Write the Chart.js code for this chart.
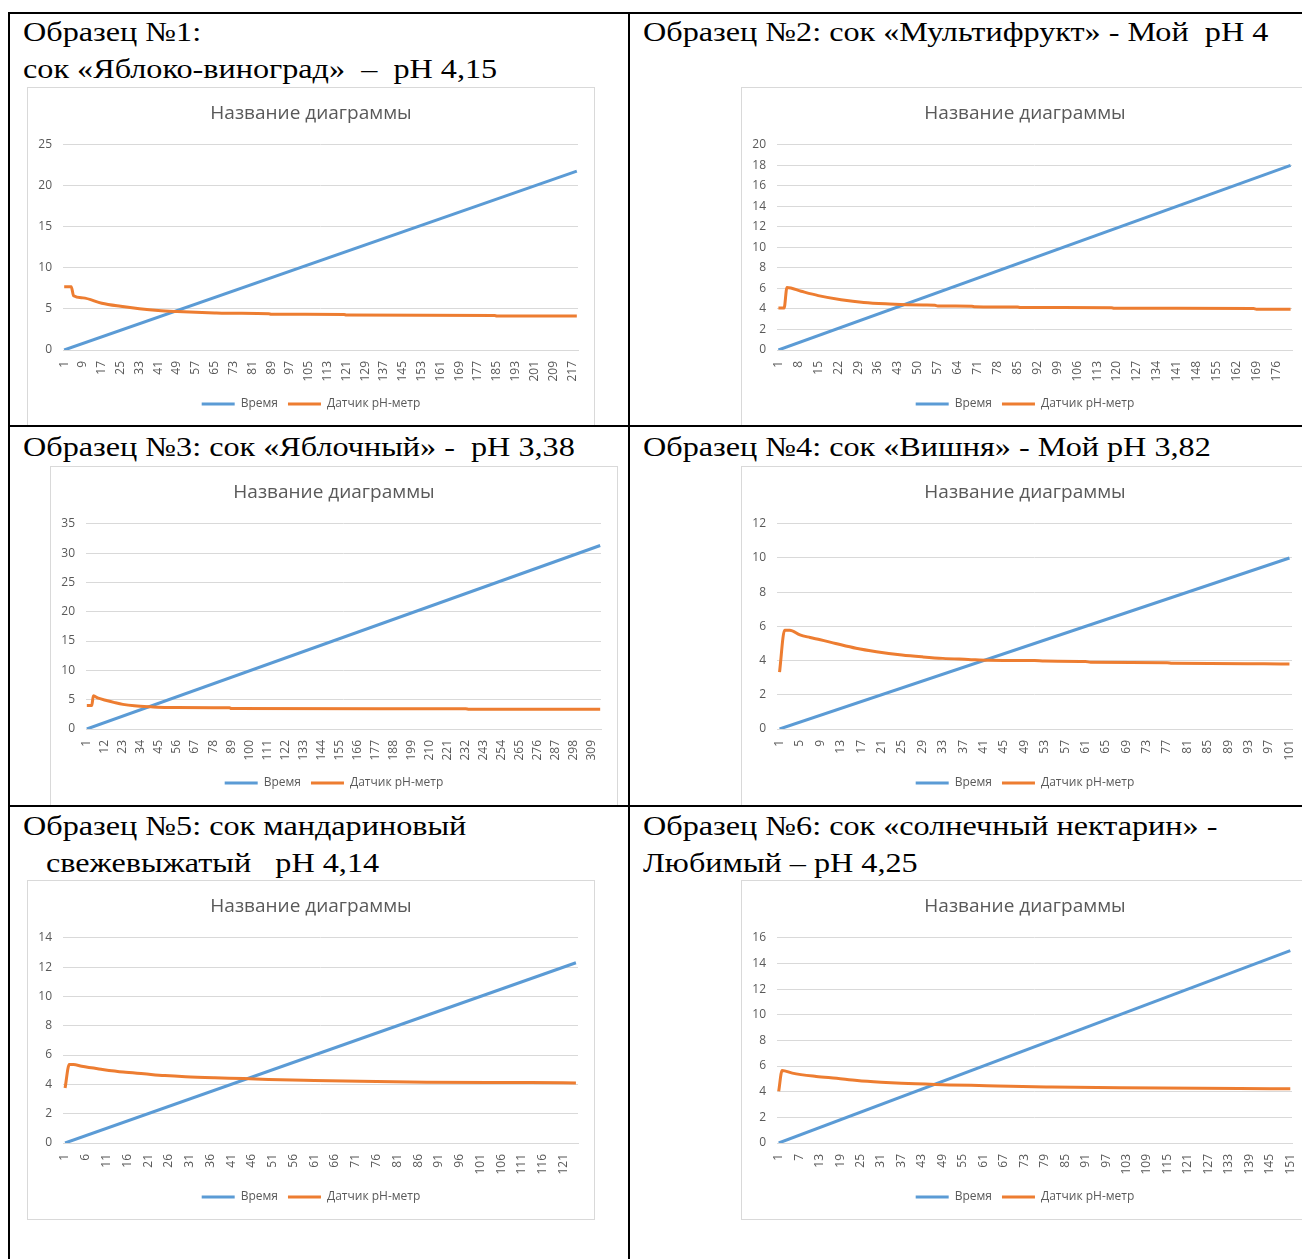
<!DOCTYPE html>
<html lang="ru">
<head>
<meta charset="utf-8">
<title>Образцы сока — pH</title>
<script src="https://cdn.jsdelivr.net/npm/chart.js@4"></script>
<style>
  html, body { margin: 0; padding: 0; background: #fff; }
  body { width: 1302px; height: 1259px; position: relative; overflow: hidden; }
  .ln { position: absolute; background: #000; z-index: 5; }
  .cap {
    position: absolute;
    font-family: "Liberation Serif", "Times New Roman", serif;
    font-size: 28px;
    line-height: 37px;
    color: #000;
    white-space: pre;
    transform: scaleX(1.15);
    transform-origin: 0 0;
  }
  .box {
    position: absolute;
    width: 566px;
    height: 338px;
    border: 1px solid #d9d9d9;
    background: #fff;
  }
  .box canvas { display: block; }
</style>
</head>
<body>

<!-- table captions -->
<div class="cap" style="left:23px; top:13px;">Образец №1:</div>
<div class="cap" style="left:23px; top:50px;">сок «Яблоко-виноград»  –  pH 4,15</div>
<div class="cap" style="left:643px; top:13px;">Образец №2: сок «Мультифрукт» - Мой  pH 4</div>
<div class="cap" style="left:23px; top:428px;">Образец №3: сок «Яблочный» -  pH 3,38</div>
<div class="cap" style="left:643px; top:428px;">Образец №4: сок «Вишня» - Мой pH 3,82</div>
<div class="cap" style="left:23px; top:807px;">Образец №5: сок мандариновый</div>
<div class="cap" style="left:46px; top:844px;">свежевыжатый   pH 4,14</div>
<div class="cap" style="left:643px; top:807px;">Образец №6: сок «солнечный нектарин» -</div>
<div class="cap" style="left:643px; top:844px;">Любимый – pH 4,25</div>

<!-- chart frames -->
<div class="box" style="left:27px; top:87px;"><canvas id="c1" width="566" height="338"></canvas></div>
<div class="box" style="left:741px; top:87px;"><canvas id="c2" width="566" height="338"></canvas></div>
<div class="box" style="left:50px; top:466px;"><canvas id="c3" width="566" height="338"></canvas></div>
<div class="box" style="left:741px; top:466px;"><canvas id="c4" width="566" height="338"></canvas></div>
<div class="box" style="left:27px; top:880px;"><canvas id="c5" width="566" height="338"></canvas></div>
<div class="box" style="left:741px; top:880px;"><canvas id="c6" width="566" height="338"></canvas></div>

<!-- table rules -->
<div class="ln" style="left:8px; top:12px; width:1294px; height:2px;"></div>
<div class="ln" style="left:8px; top:12px; width:2px; height:1247px;"></div>
<div class="ln" style="left:628px; top:12px; width:2px; height:1247px;"></div>
<div class="ln" style="left:8px; top:425px; width:1294px; height:2px;"></div>
<div class="ln" style="left:8px; top:805px; width:1294px; height:2px;"></div>

<script>
const chartTitle = 'Название диаграммы';
const seriesNames = ['Время', 'Датчик pH-метр'];

// Образец №1 — «Яблоко-виноград»
const s1Count = 219;
const s1Ticks = [1, 9, 17, 25, 33, 41, 49, 57, 65, 73, 81, 89, 97, 105, 113, 121, 129, 137, 145, 153, 161, 169, 177, 185, 193, 201, 209, 217];
const s1TimeAt = [1, 219];
const s1Time = [0, 21.8];
const s1PhAt = [1, 4, 5, 9, 17, 25, 33, 41, 49, 57, 65, 73, 88, 89, 120, 121, 184, 185, 219];
const s1Ph = [7.7, 7.7, 6.6, 6.35, 5.7, 5.32, 5.02, 4.8, 4.68, 4.6, 4.52, 4.47, 4.42, 4.37, 4.33, 4.27, 4.2, 4.15, 4.15];
const s1Y = [25, 5];

// Образец №2 — «Мультифрукт»
const s2Count = 181;
const s2Ticks = [1, 8, 15, 22, 29, 36, 43, 50, 57, 64, 71, 78, 85, 92, 99, 106, 113, 120, 127, 134, 141, 148, 155, 162, 169, 176];
const s2TimeAt = [1, 181];
const s2Time = [0, 18];
const s2PhAt = [1, 3, 4, 9, 15, 23, 31, 40, 52, 56, 57, 69, 70, 85, 86, 118, 119, 168, 169, 181];
const s2Ph = [4.1, 4.1, 6.1, 5.72, 5.3, 4.9, 4.63, 4.49, 4.38, 4.35, 4.3, 4.26, 4.22, 4.18, 4.14, 4.12, 4.07, 4.05, 3.98, 3.97];
const s2Y = [20, 2];

// Образец №3 — «Яблочный»
const s3Count = 314;
const s3Ticks = [1, 12, 23, 34, 45, 56, 67, 78, 89, 100, 111, 122, 133, 144, 155, 166, 177, 188, 199, 210, 221, 232, 243, 254, 265, 276, 287, 298, 309];
const s3TimeAt = [1, 314];
const s3Time = [0, 31.3];
const s3PhAt = [1, 4, 5, 8, 13, 18, 23, 30, 40, 50, 88, 89, 232, 234, 314];
const s3Ph = [4.0, 4.0, 5.65, 5.25, 4.85, 4.5, 4.2, 3.95, 3.78, 3.68, 3.62, 3.5, 3.46, 3.38, 3.38];
const s3Y = [35, 5];

// Образец №4 — «Вишня»
const s4Count = 101;
const s4Ticks = [1, 5, 9, 13, 17, 21, 25, 29, 33, 37, 41, 45, 49, 53, 57, 61, 65, 69, 73, 77, 81, 85, 89, 93, 97, 101];
const s4TimeAt = [1, 101];
const s4Time = [0, 10];
const s4PhAt = [1, 2, 3, 5, 7, 9, 12, 16, 20, 25, 29, 33, 38, 42, 51, 53, 61, 62, 77, 78, 96, 101];
const s4Ph = [3.33, 5.78, 5.78, 5.5, 5.35, 5.22, 5.0, 4.72, 4.52, 4.33, 4.22, 4.13, 4.07, 4.02, 4.0, 3.97, 3.95, 3.9, 3.88, 3.84, 3.82, 3.8];
const s4Y = [12, 2];

// Образец №5 — мандариновый свежевыжатый
const s5Count = 124;
const s5Ticks = [1, 6, 11, 16, 21, 26, 31, 36, 41, 46, 51, 56, 61, 66, 71, 76, 81, 86, 91, 96, 101, 106, 111, 116, 121];
const s5TimeAt = [1, 124];
const s5Time = [0, 12.3];
const s5PhAt = [1, 2, 3, 5, 10, 15, 20, 25, 30, 37, 44, 50, 61, 72, 88, 113, 124];
const s5Ph = [3.75, 5.35, 5.35, 5.23, 5.02, 4.84, 4.72, 4.6, 4.52, 4.45, 4.4, 4.34, 4.27, 4.21, 4.15, 4.12, 4.1];
const s5Y = [14, 2];

// Образец №6 — «солнечный нектарин»
const s6Count = 151;
const s6Ticks = [1, 7, 13, 19, 25, 31, 37, 43, 49, 55, 61, 67, 73, 79, 85, 91, 97, 103, 109, 115, 121, 127, 133, 139, 145, 151];
const s6TimeAt = [1, 151];
const s6Time = [0, 15];
const s6PhAt = [1, 2, 5, 12, 18, 24, 31, 37, 44, 51, 62, 69, 81, 101, 136, 151];
const s6Ph = [4.03, 5.66, 5.45, 5.19, 5.04, 4.87, 4.74, 4.66, 4.6, 4.53, 4.47, 4.42, 4.37, 4.31, 4.24, 4.23];
const s6Y = [16, 2];

const BLUE = '#5b9bd5';
const ORANGE = '#ed7d31';
const GRID = '#d9d9d9';
const TEXT = '#595959';
const FONT = "'Open Sans', 'Noto Sans', sans-serif";

function pairs(xs, ys) {
  return xs.map((x, i) => ({ x: x, y: ys[i] }));
}

function makeChart(id, count, ticks, timeAt, time, phAt, ph, yRange) {
  const canvas = document.getElementById(id);
  return new Chart(canvas, {
    type: 'line',
    data: {
      datasets: [{
        label: seriesNames[0],
        data: pairs(timeAt, time),
        borderColor: BLUE,
        backgroundColor: BLUE,
        borderWidth: 3,
        pointRadius: 0,
        order: 2
      }, {
        label: seriesNames[1],
        data: pairs(phAt, ph),
        borderColor: ORANGE,
        backgroundColor: ORANGE,
        borderWidth: 3,
        pointRadius: 0,
        cubicInterpolationMode: 'monotone',
        order: 1
      }]
    },
    options: {
      responsive: false,
      animation: false,
      events: [],
      layout: { padding: { left: 0, right: 0, top: 0, bottom: 6 } },
      plugins: {
        title: {
          display: true,
          text: chartTitle,
          color: TEXT,
          font: { family: FONT, size: 19, weight: 'normal' },
          padding: { top: 14, bottom: 20 }
        },
        legend: {
          position: 'bottom',
          labels: {
            boxWidth: 33,
            boxHeight: 3,
            padding: 10,
            color: TEXT,
            font: { family: FONT, size: 12 },
            sort: (a, b) => a.datasetIndex - b.datasetIndex,
            generateLabels(chart) {
              const items = Chart.defaults.plugins.legend.labels.generateLabels(chart);
              items.forEach(it => { it.lineWidth = 0; });
              return items;
            }
          }
        },
        tooltip: { enabled: false }
      },
      scales: {
        x: {
          type: 'linear',
          min: 0.5,
          max: count + 0.5,
          grid: { display: false },
          border: { display: true, color: GRID, width: 1 },
          afterBuildTicks(scale) {
            scale.ticks = ticks.map(v => ({ value: v }));
          },
          afterFit(scale) {
            // room on the right of the plot, title/legend stay centred on the frame
            scale.height = 38;
            scale.paddingRight = 16;
          },
          ticks: {
            autoSkip: false,
            minRotation: 90,
            maxRotation: 90,
            padding: 3,
            color: TEXT,
            font: { family: FONT, size: 12 },
            callback: v => String(v)
          }
        },
        y: {
          min: 0,
          max: yRange[0],
          grid: { color: GRID, drawTicks: false },
          border: { display: false },
          afterFit(scale) {
            scale.width = 35;
          },
          ticks: {
            stepSize: yRange[1],
            padding: 11,
            color: TEXT,
            font: { family: FONT, size: 12 }
          }
        }
      }
    }
  });
}

makeChart('c1', s1Count, s1Ticks, s1TimeAt, s1Time, s1PhAt, s1Ph, s1Y);
makeChart('c2', s2Count, s2Ticks, s2TimeAt, s2Time, s2PhAt, s2Ph, s2Y);
makeChart('c3', s3Count, s3Ticks, s3TimeAt, s3Time, s3PhAt, s3Ph, s3Y);
makeChart('c4', s4Count, s4Ticks, s4TimeAt, s4Time, s4PhAt, s4Ph, s4Y);
makeChart('c5', s5Count, s5Ticks, s5TimeAt, s5Time, s5PhAt, s5Ph, s5Y);
makeChart('c6', s6Count, s6Ticks, s6TimeAt, s6Time, s6PhAt, s6Ph, s6Y);
</script>
</body>
</html>
